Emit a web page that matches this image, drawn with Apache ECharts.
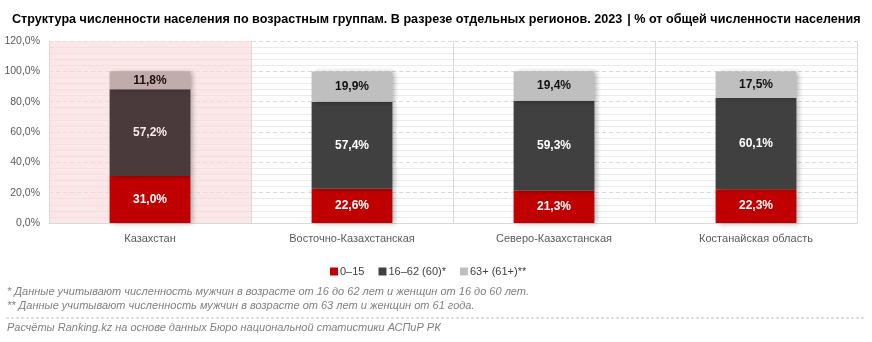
<!DOCTYPE html>
<html>
<head>
<meta charset="utf-8">
<script src="https://cdn.jsdelivr.net/npm/echarts@6/dist/echarts.min.js"></script>
<style>
  html, body { margin: 0; padding: 0; background: #fff; }
  #chart { width: 872px; height: 342px; }
</style>
</head>
<body>
<div id="chart"></div>
<script>
// Age structure of the population by region, 2023 (% of total)
const categories = ['Казахстан', 'Восточно-Казахстанская', 'Северо-Казахстанская', 'Костанайская область'];
const ageYoung = [31.0, 22.6, 21.3, 22.3];    // 0–15
const ageWorking = [57.2, 57.4, 59.3, 60.1];  // 16–62 (60)*
const ageOld = [11.8, 19.9, 19.4, 17.5];      // 63+ (61+)**
const seriesNames = ['0–15', '16–62 (60)*', '63+ (61+)**'];
const yTicks = [0, 20, 40, 60, 80, 100, 120];

const chart = echarts.init(document.getElementById('chart'));
const fmt = v => v.toFixed(1).replace('.', ',') + '%';
const font = '"Liberation Sans", Arial, sans-serif';

// colour per segment; the national total is highlighted with a warmer palette
const palette = {
  young: { base: '#c00000', label: '#ffffff' },
  working: { base: '#404040', label: '#ffffff', hl: '#4b3a3b', hlLabel: '#f5eaea' },
  old: { base: '#bfbfbf', label: '#111111', hl: '#c1abab', hlLabel: '#1a1010' }
};

function buildData(values, key) {
  const p = palette[key];
  return values.map((v, i) => {
    const hl = i === 0 && p.hl;
    return {
      value: v,
      itemStyle: { color: hl ? p.hl : p.base },
      label: { color: hl ? p.hlLabel : p.label }
    };
  });
}

function barSeries(name, values, key) {
  return {
    name: name,
    type: 'bar',
    stack: 'total',
    barWidth: '40%',
    data: buildData(values, key),
    itemStyle: {
      color: palette[key].base,
      shadowColor: 'rgba(0,0,0,0.3)',
      shadowBlur: 5,
      shadowOffsetX: 3,
      shadowOffsetY: 1
    },
    label: {
      show: true,
      position: 'inside',
      formatter: p => fmt(p.value),
      fontFamily: font,
      fontWeight: 'bold',
      fontSize: 12
    }
  };
}

chart.setOption({
  animation: false,
  color: [palette.young.base, palette.working.base, palette.old.base],
  title: {
    text: '{b|Структура численности населения по возрастным группам. В разрезе отдельных регионов. 2023} {n|| % от общей численности населения}',
    left: 7,
    top: 6,
    textStyle: {
      rich: {
        b: { fontFamily: font, fontWeight: 'bold', fontSize: 12.6, color: '#000' },
        n: { fontFamily: font, fontSize: 12.6, color: '#000' }
      }
    }
  },
  legend: {
    data: seriesNames,
    top: 261,
    left: 325,
    icon: 'rect',
    itemWidth: 8,
    itemHeight: 8,
    itemGap: 14,
    textStyle: { fontFamily: font, fontSize: 11, color: '#404040', padding: [0, 0, 0, -3] }
  },
  grid: { left: 49, right: 15, top: 41, bottom: 119 },
  xAxis: {
    type: 'category',
    data: categories,
    axisTick: { show: false },
    axisLine: { lineStyle: { color: '#d9d9d9' } },
    axisLabel: { fontFamily: font, fontSize: 11, color: '#595959', margin: 10 },
    splitLine: { show: true, lineStyle: { color: '#d9d9d9', width: 1 } },
    splitArea: {
      show: true,
      areaStyle: { color: ['rgba(248,215,215,0.6)', 'rgba(0,0,0,0)', 'rgba(0,0,0,0)', 'rgba(0,0,0,0)'] }
    }
  },
  yAxis: {
    type: 'value',
    min: yTicks[0],
    max: yTicks[yTicks.length - 1],
    interval: 20,
    axisLabel: { fontFamily: font, fontSize: 10.5, color: '#595959', formatter: v => fmt(v), margin: 9 },
    axisLine: { show: false },
    axisTick: { show: false },
    splitLine: { lineStyle: { color: '#d9d9d9', type: [4, 3] } },
    minorTick: { show: false, splitNumber: 5 },
    minorSplitLine: { show: true, lineStyle: { color: '#ececec' } }
  },
  series: [
    barSeries(seriesNames[0], ageYoung, 'young'),
    barSeries(seriesNames[1], ageWorking, 'working'),
    barSeries(seriesNames[2], ageOld, 'old')
  ],
  graphic: [
    {
      type: 'text', left: 7, top: 286,
      style: { text: '* Данные учитывают численность мужчин в возрасте от 16 до 62 лет и женщин от 16 до 60 лет.', fontFamily: font, fontStyle: 'italic', fontSize: 11, fill: '#7f7f7f' }
    },
    {
      type: 'text', left: 7, top: 300,
      style: { text: '** Данные учитывают численность мужчин в возрасте от 63 лет и женщин от 61 года.', fontFamily: font, fontStyle: 'italic', fontSize: 11, fill: '#7f7f7f' }
    },
    {
      type: 'line',
      shape: { x1: 6, y1: 318, x2: 866, y2: 318 },
      style: { stroke: '#bfbfbf', lineWidth: 1, lineDash: [3, 2] }
    },
    {
      type: 'text', left: 7, top: 322,
      style: { text: 'Расчёты Ranking.kz на основе данных Бюро национальной статистики АСПиР РК', fontFamily: font, fontStyle: 'italic', fontSize: 11, fill: '#7f7f7f' }
    }
  ]
});
</script>
</body>
</html>
